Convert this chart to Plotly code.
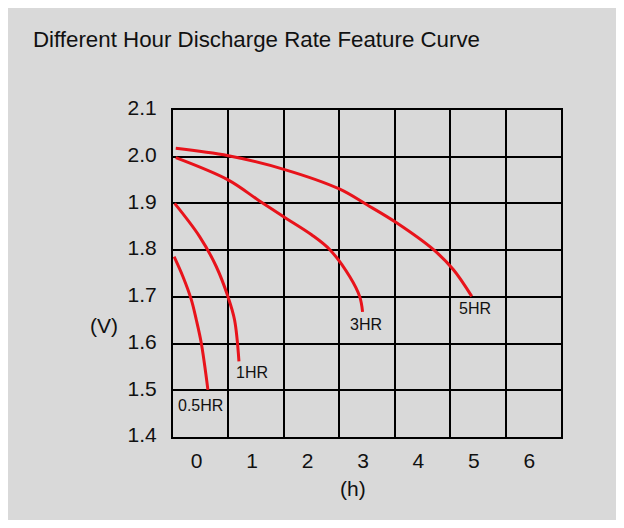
import plotly.graph_objects as go

# Data (hours on x, volts on y)
x_ticks = [0, 1, 2, 3, 4, 5, 6]
x_tick_labels = ["0", "1", "2", "3", "4", "5", "6"]
y_ticks = [1.4, 1.5, 1.6, 1.7, 1.8, 1.9, 2.0, 2.1]

x_05hr = [-0.48, -0.32, -0.17, -0.08, 0.01, 0.13]
y_05hr = [1.786, 1.743, 1.694, 1.651, 1.601, 1.501]

x_1hr = [-0.47, -0.02, 0.28, 0.49, 0.61, 0.69]
y_1hr = [1.900, 1.829, 1.765, 1.701, 1.651, 1.562]

x_3hr = [-0.45, 0.5, 1.04, 1.49, 2.0, 2.33, 2.69, 2.87, 2.92]
y_3hr = [1.998, 1.950, 1.907, 1.872, 1.833, 1.801, 1.743, 1.700, 1.668]

x_5hr = [-0.45, 0.5, 1.5, 2.5, 3.0, 3.54, 4.2, 4.56, 4.89]
y_5hr = [2.018, 2.002, 1.973, 1.931, 1.897, 1.858, 1.801, 1.758, 1.701]

series = [
    ("0.5HR", x_05hr, y_05hr),
    ("1HR", x_1hr, y_1hr),
    ("3HR", x_3hr, y_3hr),
    ("5HR", x_5hr, y_5hr),
]

label_names = ["0.5HR", "1HR", "3HR", "5HR"]
label_x = [0.0, 0.93, 2.98, 4.95]
label_y = [1.468, 1.539, 1.640, 1.676]

RED = "#e8131b"
GRAY = "#d9d9d9"
FONT = "Liberation Sans, Arial, sans-serif"

fig = go.Figure()
for name, xs, ys in series:
    fig.add_trace(go.Scatter(
        x=xs, y=ys, mode="lines", name=name,
        line=dict(color=RED, width=3, shape="spline", smoothing=1.0),
        showlegend=False, hoverinfo="skip",
    ))

for t, lx, ly in zip(label_names, label_x, label_y):
    fig.add_annotation(x=lx, y=ly, text=t, showarrow=False,
                       font=dict(size=16, color="#111", family=FONT))

# page shows the figure with an 8px body margin; size the figure to fit the window exactly
OFF = 8
W, H = 624 - 2 * OFF, 528 - 2 * OFF
L, T = 173 - OFF, 110 - OFF
pw, ph = 388, 327
R = W - L - pw
B = H - T - ph

fig.add_annotation(xref="paper", yref="paper",
                   x=(88 - OFF - L) / pw, y=(T + ph - (325 - OFF)) / ph,
                   text="(V)", showarrow=False,
                   font=dict(size=21, color="#111", family=FONT))
fig.add_annotation(xref="paper", yref="paper",
                   x=(352.5 - OFF - L) / pw, y=(T + ph - (502 - OFF)) / ph,
                   text="(h)", showarrow=False,
                   font=dict(size=21, color="#111", family=FONT))

fig.update_layout(
    width=W, height=H,
    margin=dict(l=L, r=R, t=T, b=B),
    paper_bgcolor=GRAY,
    plot_bgcolor=GRAY,
    font=dict(family=FONT, color="#111", size=21),
    title=dict(text="Different Hour Discharge Rate Feature Curve",
               x=(33 - OFF) / W, xanchor="left", xref="container",
               y=1 - (39 - OFF) / H, yanchor="middle", yref="container",
               font=dict(size=22.3, family=FONT, color="#111")),
    xaxis=dict(range=[-0.5, 6.5], tickvals=x_ticks, ticktext=x_tick_labels,
               showgrid=False, zeroline=False,
               showline=True, mirror=True, linecolor="black", linewidth=2,
               ticks="", ticklabelstandoff=4, ticklabelshift=-4,
               minor=dict(tickvals=[0.5, 1.5, 2.5, 3.5, 4.5, 5.5],
                          showgrid=True, gridcolor="black", gridwidth=2,
                          ticks=""),
               fixedrange=True),
    yaxis=dict(range=[1.4, 2.1], tickvals=y_ticks, tickformat=".1f",
               showgrid=True, gridcolor="black", gridwidth=2, zeroline=False,
               showline=True, mirror=True, linecolor="black", linewidth=2,
               ticks="", ticklabelstandoff=10, ticklabelshift=-2,
               fixedrange=True),
)

fig.write_html("out.html")
